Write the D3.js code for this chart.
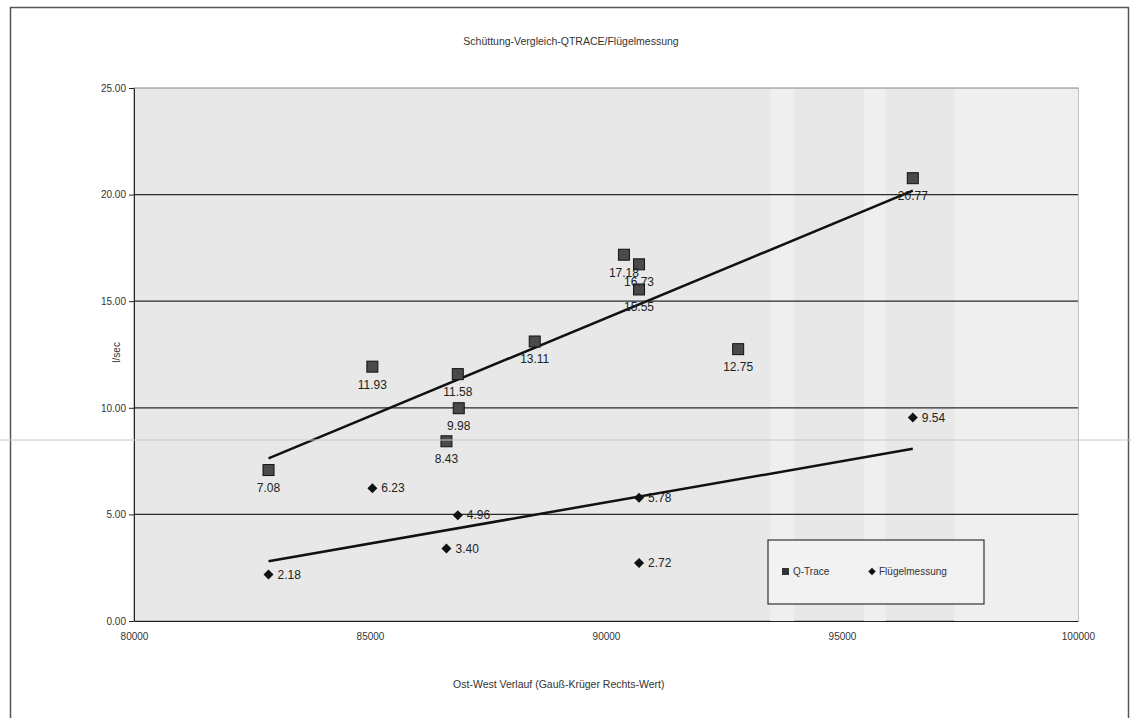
<!DOCTYPE html>
<html>
<head>
<meta charset="utf-8">
<script src="https://cdn.jsdelivr.net/npm/d3@7"></script>
<style>
body { margin: 0; background: #fff; }
.axis text { font-family: "Liberation Sans", Arial, sans-serif; font-size: 10px; fill: #333; }
.axis path, .axis line { stroke: #222; }
.label-text { font-family: "Liberation Sans", Arial, sans-serif; fill: #333; }
.data-label { font-family: "Liberation Sans", Arial, sans-serif; font-size: 12px; fill: #222; }
</style>
</head>
<body>
<script>
// x = Gauss-Krueger Rechts-Wert, y = l/sec
var qtraceX = [82850, 85050, 86860, 86880, 86620, 88490, 90380, 90700, 90700, 92800, 96500];
var qtraceY = [7.08, 11.93, 11.58, 9.98, 8.43, 13.11, 17.18, 16.73, 15.55, 12.75, 20.77];

var fluegelX = [82850, 85050, 86860, 86620, 90700, 90700, 96500];
var fluegelY = [2.18, 6.23, 4.96, 3.40, 5.78, 2.72, 9.54];

var xTicks = [80000, 85000, 90000, 95000, 100000];
var yTicks = [0, 5, 10, 15, 20, 25];

var seriesNames = ["Q-Trace", "Flügelmessung"];

var margin = {top: 88, right: 53, bottom: 97, left: 134};
var width = 1131 - margin.left - margin.right;
var height = 718 - margin.top - margin.bottom;

var svg0 = d3.select("body").append("svg")
    .attr("width", 1131)
    .attr("height", 718);

// outer chart frame
svg0.append("rect")
    .attr("x", 10.5).attr("y", 7.5)
    .attr("width", 1118).attr("height", 730)
    .attr("fill", "#fff")
    .attr("stroke", "#555")
    .attr("stroke-width", 1.5);

svg0.append("text")
    .attr("class", "label-text")
    .attr("x", 571).attr("y", 45)
    .attr("text-anchor", "middle")
    .style("font-size", "10.5px")
    .text("Schüttung-Vergleich-QTRACE/Flügelmessung");

var svg = svg0.append("g")
    .attr("transform", "translate(" + margin.left + "," + margin.top + ")");

var xScale = d3.scaleLinear().domain([80000, 100000]).range([0, width]);
var yScale = d3.scaleLinear().domain([0, 25]).range([height, 0]);

// plot area
svg.append("rect")
    .attr("width", width).attr("height", height)
    .attr("fill", "#e8e8e8")
    .attr("stroke", "#888");

// lighter bands from the scan
[[636, 660], [730, 752], [820, 944]].forEach(function(b) {
    svg.append("rect")
        .attr("x", b[0]).attr("width", b[1] - b[0])
        .attr("y", 1).attr("height", height - 1)
        .attr("fill", "#efefef");
});

svg.selectAll(".grid")
    .data(yTicks.filter(function(d) { return d > 0 && d < 25; }))
    .enter()
    .append("line")
    .attr("x1", 0).attr("x2", width)
    .attr("y1", function(d) { return yScale(d); })
    .attr("y2", function(d) { return yScale(d); })
    .attr("stroke", "#2a2a2a")
    .attr("stroke-width", 1.2);

svg.append("g")
    .attr("class", "axis")
    .attr("transform", "translate(0," + height + ")")
    .call(d3.axisBottom(xScale).tickValues(xTicks).tickSize(0).tickPadding(12)
        .tickFormat(d3.format("d")));

svg.append("g")
    .attr("class", "axis")
    .call(d3.axisLeft(yScale).tickValues(yTicks).tickSize(5).tickSizeOuter(0)
        .tickFormat(d3.format(".2f")));

svg.append("text")
    .attr("class", "label-text")
    .attr("x", xScale(89000)).attr("y", height + 67)
    .attr("text-anchor", "middle")
    .style("font-size", "10.5px")
    .text("Ost-West Verlauf (Gauß-Krüger Rechts-Wert)");

svg.append("text")
    .attr("class", "label-text")
    .attr("transform", "rotate(-90)")
    .attr("x", -(yScale(12.6))).attr("y", -14)
    .attr("text-anchor", "middle")
    .style("font-size", "10px")
    .text("l/sec");

// faint scan line
svg0.append("line")
    .attr("x1", 0).attr("x2", 1131)
    .attr("y1", 440).attr("y2", 440)
    .attr("stroke", "#c8c8c8")
    .attr("stroke-width", 1);

// linear trend lines (least squares)
function trend(xs, ys) {
    var mx = d3.mean(xs), my = d3.mean(ys);
    var sxy = d3.sum(xs, function(x, i) { return (x - mx) * (ys[i] - my); });
    var sxx = d3.sum(xs, function(x) { return (x - mx) * (x - mx); });
    var b = sxy / sxx, a = my - b * mx;
    var x0 = d3.min(xs), x1 = d3.max(xs);
    return [[x0, a + b * x0], [x1, a + b * x1]];
}

var line = d3.line()
    .x(function(d) { return xScale(d[0]); })
    .y(function(d) { return yScale(d[1]); });

[trend(qtraceX, qtraceY), trend(fluegelX, fluegelY)].forEach(function(t) {
    svg.append("path")
        .attr("d", line(t))
        .attr("fill", "none")
        .attr("stroke", "#111")
        .attr("stroke-width", 2.5);
});

var qData = qtraceX.map(function(x, i) { return {x: x, y: qtraceY[i]}; });
var fData = fluegelX.map(function(x, i) { return {x: x, y: fluegelY[i]}; });

svg.selectAll(".qmark")
    .data(qData)
    .enter()
    .append("rect")
    .attr("x", function(d) { return xScale(d.x) - 5.5; })
    .attr("y", function(d) { return yScale(d.y) - 5.5; })
    .attr("width", 11).attr("height", 11)
    .attr("fill", "#4a4a4a")
    .attr("stroke", "#111");

svg.selectAll(".qlabel")
    .data(qData)
    .enter()
    .append("text")
    .attr("class", "data-label")
    .attr("x", function(d) { return xScale(d.x); })
    .attr("y", function(d) { return yScale(d.y) + 22; })
    .attr("text-anchor", "middle")
    .text(function(d) { return d3.format(".2f")(d.y); });

var diamond = d3.symbol().type(d3.symbolDiamond2).size(64);

svg.selectAll(".fmark")
    .data(fData)
    .enter()
    .append("path")
    .attr("d", diamond)
    .attr("transform", function(d) { return "translate(" + xScale(d.x) + "," + yScale(d.y) + ")"; })
    .attr("fill", "#111");

svg.selectAll(".flabel")
    .data(fData)
    .enter()
    .append("text")
    .attr("class", "data-label")
    .attr("x", function(d) { return xScale(d.x) + 9; })
    .attr("y", function(d) { return yScale(d.y) + 4; })
    .text(function(d) { return d3.format(".2f")(d.y); });

// legend
var legend = svg0.append("g").attr("transform", "translate(768,540)");
legend.append("rect")
    .attr("width", 216).attr("height", 64)
    .attr("fill", "#f2f2f2")
    .attr("stroke", "#333")
    .attr("stroke-width", 1.2);
legend.append("rect")
    .attr("x", 14).attr("y", 28).attr("width", 7).attr("height", 7)
    .attr("fill", "#333");
legend.append("path")
    .attr("d", d3.symbol().type(d3.symbolDiamond2).size(36))
    .attr("transform", "translate(104,31.5)")
    .attr("fill", "#111");
legend.selectAll(".legend-text")
    .data(seriesNames)
    .enter()
    .append("text")
    .attr("class", "label-text")
    .attr("x", function(d, i) { return i === 0 ? 25 : 111; })
    .attr("y", 35)
    .style("font-size", "10px")
    .text(function(d) { return d; });
</script>
</body>
</html>
